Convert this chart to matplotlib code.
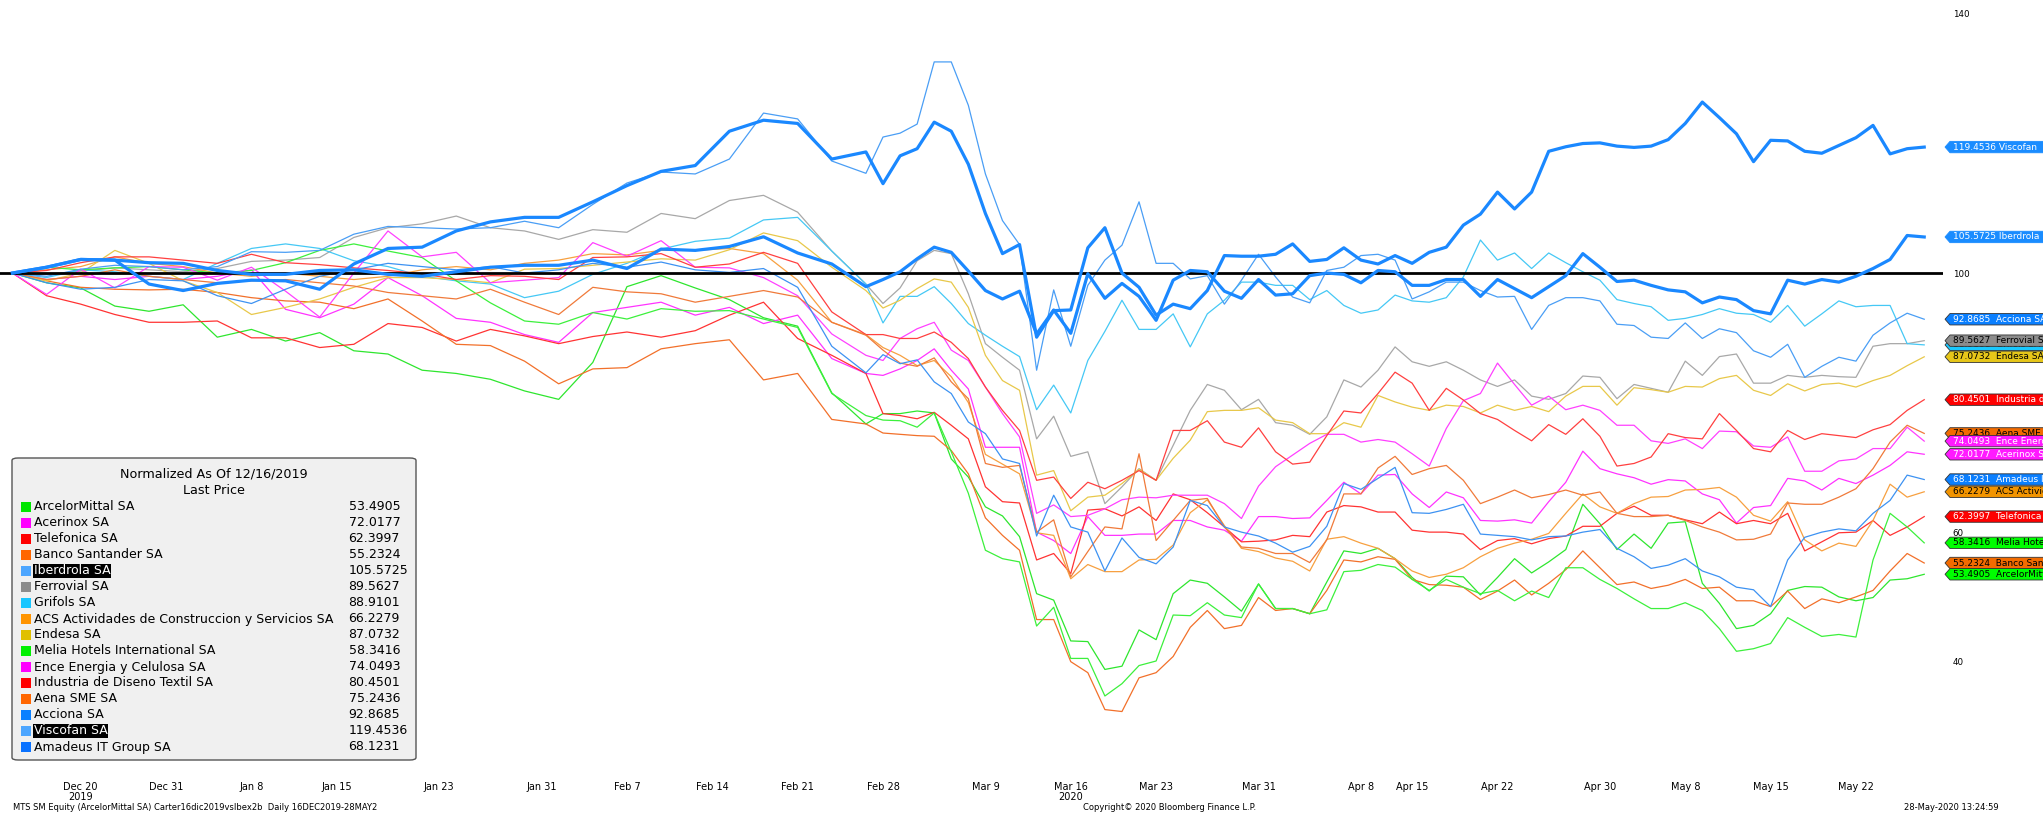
import matplotlib
matplotlib.use("Agg")
import matplotlib.pyplot as plt
from matplotlib.patches import Polygon, Rectangle, FancyBboxPatch
from matplotlib.transforms import IdentityTransform

W, H = 2043, 815

# x = trading day since 16-Dec-2019 (every 2nd day up to 26-Feb, then daily)
days = list(range(0, 52, 2)) + list(range(51, 113))

tick_days = [4, 9, 14, 19, 25, 31, 36, 41, 46, 51, 57, 62, 67, 73, 79, 82, 87, 93, 98, 103, 108]
tick_labels = ["Dec 20\n2019", "Dec 31", "Jan 8", "Jan 15", "Jan 23", "Jan 31", "Feb 7", "Feb 14",
               "Feb 21", "Feb 28", "Mar 9", "Mar 16\n2020", "Mar 23", "Mar 31", "Apr 8", "Apr 15",
               "Apr 22", "Apr 30", "May 8", "May 15", "May 22"]
# 80 and 120 sit under the price tags, so only these show
y_ticks = [40, 60, 100, 140]

# normalized prices (16/12/2019 = 100)
arcelor = [100, 98.5, 97.7, 94.9, 94.1, 95.1, 90.1, 91.3, 89.5, 90.8, 88.0, 87.5, 85.0, 84.5, 83.6, 81.8, 80.5, 86.2, 97.9, 99.6, 97.7, 95.9, 93.1, 91.8, 81.5, 76.7,
           78.3, 78.3, 78.7, 78.4, 71.3, 68.5, 63.9, 62.5, 59.3, 50.5,
           49.5, 43.2, 43.1, 38.8, 39.3, 44.9, 43.4, 50.5, 52.6, 52.1,
           50.0, 47.8, 52.0, 48.2, 48.2, 47.4, 52.3, 57.1, 56.7, 57.5,
           55.9, 53.0, 50.9, 53.2, 53.1, 50.3, 53.0, 55.9, 53.7, 55.4,
           57.3, 64.3, 61.3, 57.3, 59.7, 57.5, 61.4, 61.6, 52.1, 49.0,
           45.1, 45.6, 47.4, 51.0, 51.6, 51.5, 50.0, 49.4, 49.9, 52.6,
           52.8, 53.49]
acerinox = [100, 99.0, 99.5, 99.0, 99.5, 99.0, 99.5, 100.5, 94.4, 93.1, 95.2, 99.3, 96.5, 93.0, 92.4, 90.5, 89.3, 93.9, 94.7, 95.5, 93.5, 94.7, 92.2, 93.5, 86.8, 84.5,
            84.2, 85.2, 86.5, 88.3, 85.0, 82.1, 73.1, 73.1, 73.1, 60.0,
            58.7, 56.7, 62.4, 59.5, 59.5, 59.7, 59.7, 61.8, 61.8, 60.8,
            60.3, 58.6, 62.4, 62.4, 62.1, 62.2, 64.9, 67.7, 65.9, 68.8,
            68.9, 65.9, 63.8, 66.2, 65.3, 61.8, 61.7, 61.9, 61.4, 64.7,
            67.7, 72.5, 69.8, 69.0, 68.4, 67.4, 68.1, 67.9, 65.9, 65.0,
            61.4, 63.8, 64.1, 68.3, 67.9, 66.5, 68.3, 67.5, 68.8, 70.3,
            72.4, 72.02]
telefonica = [100, 96.5, 95.2, 93.6, 92.4, 92.4, 92.6, 90.0, 90.0, 88.5, 89.0, 92.2, 91.6, 89.5, 91.3, 90.3, 89.1, 90.2, 90.9, 90.1, 91.1, 93.5, 95.5, 89.9, 87.3, 84.5,
              78.3, 78.0, 77.5, 78.5, 76.5, 74.4, 67.0, 64.7, 64.5, 55.7,
              56.7, 53.6, 63.4, 63.6, 62.5, 63.9, 61.8, 65.9, 65.0, 63.0,
              60.8, 58.5, 58.6, 58.8, 59.5, 59.3, 63.1, 64.1, 63.9, 63.1,
              63.1, 60.3, 60.0, 60.0, 59.7, 57.3, 58.7, 59.0, 58.2, 59.0,
              59.4, 60.9, 60.9, 62.9, 64.0, 62.6, 62.6, 61.9, 61.3, 63.1,
              61.3, 61.8, 61.3, 62.9, 57.1, 58.5, 59.9, 60.0, 61.8, 59.5,
              60.8, 62.4]
santander = [100, 98.8, 97.8, 97.5, 97.4, 97.5, 97.0, 96.2, 95.7, 95.5, 94.5, 96.0, 92.6, 89.0, 88.8, 86.4, 82.9, 85.2, 85.4, 88.3, 89.1, 89.7, 83.5, 84.5, 77.4, 76.7,
             75.3, 75.1, 74.9, 74.8, 72.6, 69.0, 62.2, 59.5, 57.2, 46.5,
             46.5, 40.0, 38.3, 32.6, 32.3, 37.5, 38.3, 40.8, 45.3, 47.9,
             45.1, 45.6, 49.9, 47.9, 48.2, 47.4, 51.0, 55.7, 55.4, 56.2,
             55.8, 52.7, 51.9, 51.8, 51.5, 49.6, 50.9, 52.6, 50.3, 52.1,
             54.2, 57.1, 54.5, 51.9, 52.3, 51.3, 51.8, 52.7, 51.3, 51.5,
             49.4, 49.4, 48.5, 50.9, 48.2, 49.7, 49.1, 50.0, 51.0, 54.0,
             56.7, 55.23]
iberdrola = [100, 100.9, 102.1, 102.0, 101.6, 101.5, 100.4, 99.8, 99.8, 100.4, 100.5, 99.8, 99.5, 100.2, 100.9, 101.2, 101.2, 102.0, 100.7, 103.7, 103.5, 104.1, 105.6, 103.1, 101.4, 97.9,
             99.0, 100.2, 102.2, 104.0, 103.2, 100.3, 97.3, 96.0, 97.2, 90.6,
             94.3, 90.7, 99.9, 96.1, 98.4, 96.4, 92.7, 98.9, 100.4, 100.2,
             97.2, 96.1, 99.0, 96.6, 96.8, 99.6, 100.0, 99.8, 98.5, 100.4,
             100.2, 98.1, 98.1, 99.0, 99.0, 96.4, 99.0, 97.6, 96.2, 97.9,
             99.6, 103.0, 100.9, 98.7, 98.9, 98.1, 97.4, 97.1, 95.4, 96.3,
             95.9, 94.2, 93.7, 98.9, 98.3, 99.0, 98.6, 99.5, 100.7, 102.1,
             105.8, 105.57]
ferrovial = [100, 99.8, 100.3, 100.8, 100.5, 100.2, 100.7, 101.8, 102.0, 102.4, 105.5, 107.0, 107.6, 108.8, 107.0, 106.5, 105.2, 106.7, 106.3, 109.2, 108.4, 111.2, 112.0, 109.4, 103.4, 98.3,
             95.3, 97.7, 101.9, 103.5, 103.0, 96.8, 89.1, 87.0, 85.0, 74.4,
             77.9, 71.7, 72.4, 64.4, 67.0, 69.8, 68.0, 73.4, 78.8, 82.8,
             81.9, 78.9, 80.5, 76.9, 76.5, 75.1, 77.8, 83.5, 82.4, 85.0,
             88.6, 86.3, 85.6, 86.3, 85.0, 83.5, 82.5, 83.5, 81.0, 80.5,
             81.4, 84.1, 83.9, 80.6, 82.8, 82.2, 81.6, 86.4, 84.2, 87.1,
             87.5, 83.0, 83.0, 84.2, 83.9, 84.2, 84.0, 83.9, 88.7, 89.1,
             89.1, 89.56]
grifols = [100, 99.3, 100.5, 100.2, 99.5, 99.0, 101.5, 103.8, 104.5, 103.8, 101.9, 101.0, 99.5, 98.8, 98.3, 96.2, 97.2, 99.8, 101.5, 103.7, 104.9, 105.4, 108.2, 108.6, 103.4, 98.3,
           92.3, 96.4, 96.4, 97.9, 95.3, 92.2, 90.4, 88.7, 87.1, 78.9,
           82.7, 78.4, 86.5, 91.0, 95.8, 91.3, 91.3, 93.7, 88.6, 93.7,
           95.8, 98.6, 98.6, 98.1, 98.1, 95.9, 97.3, 95.0, 93.8, 94.3,
           96.6, 95.7, 95.5, 96.2, 99.4, 105.1, 102.0, 103.1, 100.7, 103.1,
           101.6, 100.2, 98.9, 95.9, 95.3, 94.8, 92.7, 93.0, 93.6, 94.5,
           93.8, 93.6, 92.4, 95.0, 91.8, 93.7, 95.7, 94.8, 95.0, 95.0,
           89.1, 88.91]
acs = [100, 100.5, 101.0, 102.5, 101.5, 101.0, 100.0, 99.5, 100.0, 99.5, 99.0, 99.5, 100.5, 101.0, 100.5, 101.5, 102.0, 103.0, 102.8, 103.5, 103.5, 103.8, 103.0, 98.9, 92.4, 90.5,
       88.5, 87.3, 85.7, 86.5, 84.0, 80.0, 72.0, 70.5, 69.0, 59.9,
       59.5, 52.8, 55.0, 53.9, 53.9, 55.7, 55.8, 58.0, 63.0, 65.0,
       61.0, 57.5, 57.0, 56.0, 55.5, 54.0, 58.9, 59.3, 58.3, 57.5,
       55.9, 54.0, 53.0, 53.5, 54.5, 56.2, 57.5, 58.3, 58.9, 59.8,
       62.9, 65.9, 63.9, 62.9, 64.4, 65.4, 65.5, 66.5, 66.6, 66.9,
       65.4, 62.6, 61.7, 64.7, 58.8, 57.1, 58.3, 57.8, 61.8, 67.4,
       65.4, 66.23]
endesa = [100, 98.8, 100.0, 103.5, 101.5, 98.8, 97.0, 93.6, 94.7, 96.0, 97.8, 99.3, 99.3, 99.0, 98.5, 100.6, 100.7, 101.2, 101.7, 102.2, 102.0, 103.6, 106.2, 105.0, 100.9, 97.3,
          94.6, 95.8, 97.6, 99.1, 98.6, 94.7, 87.3, 83.4, 81.9, 68.8,
          69.5, 63.3, 65.4, 65.7, 67.5, 69.7, 68.0, 71.4, 74.2, 78.6,
          78.8, 78.8, 79.2, 77.3, 76.9, 75.2, 75.2, 76.9, 76.2, 81.1,
          80.1, 79.3, 78.8, 79.6, 79.4, 78.4, 79.6, 78.8, 79.4, 78.6,
          81.0, 82.5, 82.5, 79.6, 82.3, 82.0, 81.6, 82.5, 82.4, 83.7,
          84.2, 81.9, 81.1, 82.9, 81.8, 82.8, 83.0, 82.4, 83.4, 84.2,
          85.7, 87.07]
melia = [100, 100.9, 100.5, 100.8, 101.0, 100.5, 100.0, 100.4, 101.6, 103.5, 104.5, 103.4, 102.4, 98.8, 95.4, 92.6, 92.1, 93.9, 92.9, 94.5, 94.1, 94.2, 92.9, 91.6, 81.4, 78.0,
         77.3, 77.2, 76.2, 78.4, 72.4, 66.0, 57.2, 55.9, 55.4, 45.5,
         48.4, 40.5, 40.5, 34.7, 36.6, 39.4, 40.1, 47.2, 47.1, 49.1,
         47.2, 46.8, 52.0, 48.2, 48.2, 47.4, 48.0, 53.9, 54.1, 55.0,
         54.6, 52.7, 51.0, 52.7, 51.5, 50.5, 51.0, 49.4, 50.9, 49.9,
         54.5, 54.5, 52.7, 51.3, 49.7, 48.2, 48.2, 49.1, 47.9, 45.1,
         41.6, 42.0, 42.8, 46.8, 45.3, 43.9, 44.2, 43.8, 55.7, 62.9,
         60.8, 58.34]
ence = [100, 96.7, 100.6, 97.7, 101.0, 100.9, 98.9, 100.9, 97.2, 93.2, 100.0, 106.5, 102.5, 103.2, 98.5, 98.9, 99.3, 104.7, 102.6, 105.0, 100.9, 100.8, 99.3, 96.5, 90.6, 87.3,
        86.5, 89.9, 91.4, 92.4, 88.1, 86.5, 82.4, 78.3, 74.7, 62.9,
        64.2, 62.4, 62.6, 63.6, 65.0, 65.4, 65.3, 65.7, 65.7, 65.7,
        64.4, 62.1, 67.1, 70.1, 71.9, 73.7, 75.1, 75.1, 73.9, 74.3,
        73.9, 72.1, 70.2, 76.0, 80.3, 81.4, 86.1, 82.8, 79.6, 81.0,
        78.9, 79.6, 78.8, 76.5, 76.5, 74.1, 73.7, 74.4, 72.9, 75.6,
        75.5, 73.3, 73.1, 74.7, 69.4, 69.4, 71.0, 71.3, 72.9, 72.9,
        76.2, 74.05]
inditex = [100, 100.4, 101.6, 102.5, 102.5, 102.0, 101.5, 102.9, 101.6, 101.3, 100.8, 100.4, 99.9, 99.0, 99.6, 99.5, 99.0, 102.4, 102.5, 103.0, 100.9, 101.4, 103.2, 101.5, 94.0, 90.5,
           90.5, 89.9, 89.9, 90.9, 89.3, 86.8, 82.4, 78.8, 75.7, 68.0,
           68.5, 65.2, 67.7, 66.7, 68.0, 69.5, 68.0, 75.7, 75.7, 77.2,
           73.9, 73.1, 76.1, 72.4, 70.5, 70.8, 74.9, 78.7, 78.4, 81.4,
           84.7, 83.0, 78.8, 82.2, 80.4, 78.3, 77.4, 75.7, 74.1, 76.6,
           75.1, 77.5, 74.8, 70.2, 70.6, 71.6, 75.2, 74.6, 74.4, 78.3,
           75.7, 72.9, 72.4, 75.7, 74.3, 75.2, 74.9, 74.6, 75.8, 76.6,
           78.8, 80.45]
aena = [100, 99.0, 99.5, 100.5, 99.5, 99.0, 98.5, 98.8, 99.0, 98.5, 98.0, 97.0, 96.5, 96.0, 97.5, 95.5, 93.6, 97.8, 97.1, 96.8, 95.5, 96.4, 97.3, 96.3, 92.4, 90.4,
        88.1, 86.1, 85.6, 86.9, 83.2, 80.6, 70.6, 70.0, 70.3, 60.0,
        61.9, 53.1, 57.0, 60.8, 60.5, 72.1, 58.7, 61.8, 64.9, 65.2,
        60.8, 57.7, 57.5, 56.7, 56.7, 55.3, 58.8, 65.9, 65.9, 69.9,
        71.7, 68.9, 69.8, 70.3, 68.0, 64.4, 65.4, 66.5, 65.3, 65.8,
        66.5, 65.7, 66.2, 62.9, 62.4, 62.4, 62.6, 61.8, 60.8, 60.0,
        58.8, 58.9, 59.7, 64.5, 64.3, 64.3, 65.4, 66.7, 69.8, 73.9,
        76.5, 75.24]
acciona = [100, 99.5, 100.6, 101.2, 101.0, 100.5, 101.0, 103.3, 103.2, 103.5, 106.0, 107.2, 107.0, 106.8, 107.0, 108.0, 107.0, 110.6, 113.9, 115.6, 115.3, 117.6, 124.7, 123.8, 117.3, 115.4,
           121.0, 121.6, 123.0, 132.6, 132.6, 125.9, 115.3, 108.1, 104.4, 85.0,
           97.4, 88.7, 98.1, 102.0, 104.3, 111.0, 101.5, 101.5, 99.1, 99.6,
           95.2, 98.9, 102.9, 99.4, 96.3, 95.4, 100.4, 100.9, 102.7, 102.9,
           102.0, 96.0, 97.1, 98.6, 98.6, 97.3, 96.3, 96.4, 91.3, 95.0,
           96.2, 96.2, 95.7, 92.1, 91.9, 90.1, 89.9, 92.3, 89.9, 91.4,
           90.8, 88.0, 87.0, 89.0, 83.9, 85.6, 87.0, 86.4, 90.4, 92.3,
           93.8, 92.87]
viscofan = [100, 100.9, 102.1, 102.0, 98.3, 97.3, 98.4, 98.9, 98.8, 97.5, 101.4, 103.8, 104.0, 106.5, 107.9, 108.6, 108.6, 111.0, 113.5, 115.7, 116.6, 121.9, 123.6, 123.1, 117.6, 118.7,
            113.8, 118.1, 119.2, 123.3, 121.9, 116.8, 109.2, 103.0, 104.4, 90.1,
            94.2, 94.3, 103.9, 107.0, 100.0, 97.8, 93.5, 95.2, 94.5, 97.3,
            102.7, 102.6, 102.6, 102.9, 104.5, 101.8, 102.1, 103.9, 102.0, 101.4,
            102.7, 101.5, 103.2, 104.0, 107.4, 109.1, 112.5, 109.9, 112.5, 118.8,
            119.5, 120.0, 120.1, 119.6, 119.4, 119.6, 120.6, 123.1, 126.4, 124.0,
            121.5, 117.2, 120.5, 120.4, 118.8, 118.5, 119.7, 120.9, 122.8, 118.4,
            119.2, 119.45]
amadeus = [100, 98.5, 97.5, 97.8, 99.0, 98.8, 96.5, 95.3, 97.5, 99.5, 100.5, 101.5, 101.0, 100.5, 101.0, 100.0, 100.5, 101.5, 100.9, 101.7, 100.5, 100.1, 100.7, 97.8, 88.7, 84.6,
           87.4, 86.0, 86.6, 83.2, 81.4, 77.0, 75.2, 71.3, 70.6, 59.4,
           65.7, 60.8, 60.0, 54.0, 59.1, 56.1, 55.1, 57.7, 64.9, 64.1,
           60.8, 60.0, 59.4, 58.3, 56.9, 57.8, 60.9, 67.5, 66.6, 68.3,
           70.0, 63.0, 62.9, 63.5, 64.3, 59.7, 59.5, 59.3, 58.8, 59.3,
           59.4, 60.0, 60.4, 57.5, 56.2, 54.4, 54.9, 55.9, 54.0, 53.1,
           51.5, 51.1, 48.5, 55.7, 59.2, 60.0, 60.5, 60.2, 62.9, 64.9,
           68.8, 68.12]

# legend name, tag name, last price, data, line colour, legend square, tag colour, tag text, bold
series = [
    ("ArcelorMittal SA", "ArcelorMittal SA", 53.4905, arcelor, "#2EE62E", "#00E600", "#00FF00", "black", False),
    ("Acerinox SA", "Acerinox SA", 72.0177, acerinox, "#FF33FF", "#FF00FF", "#FF1AFF", "white", False),
    ("Telefonica SA", "Telefonica SA", 62.3997, telefonica, "#FF3333", "#FF0000", "#FF0000", "white", False),
    ("Banco Santander SA", "Banco Santander SA", 55.2324, santander, "#F2702A", "#FF6600", "#F26B00", "black", False),
    ("Iberdrola SA", "Iberdrola", 105.5725, iberdrola, "#1A88FF", "#4DA6FF", "#1A8CFF", "white", True),
    ("Ferrovial SA", "Ferrovial SA", 89.5627, ferrovial, "#A8A8A8", "#8C8C8C", "#8C8C8C", "black", False),
    ("Grifols SA", "Grifols SA", 88.9101, grifols, "#45C8F5", "#19C6FF", "#1AC8FF", "black", False),
    ("ACS Actividades de Construccion y Servicios SA", "ACS Actividades", 66.2279, acs, "#F7A040", "#FF9400", "#F29400", "black", False),
    ("Endesa SA", "Endesa SA", 87.0732, endesa, "#E8C84A", "#E0C000", "#E6C619", "black", False),
    ("Melia Hotels International SA", "Melia Hotels", 58.3416, melia, "#3CF03C", "#00F000", "#00FF00", "black", False),
    ("Ence Energia y Celulosa SA", "Ence Energia", 74.0493, ence, "#FF40FF", "#FF00FF", "#FF1AFF", "white", False),
    ("Industria de Diseno Textil SA", "Industria de Diseno", 80.4501, inditex, "#FF4040", "#FF0000", "#FF0000", "white", False),
    ("Aena SME SA", "Aena SME SA", 75.2436, aena, "#F07A3A", "#FF6600", "#F26B00", "black", False),
    ("Acciona SA", "Acciona SA", 92.8685, acciona, "#4A9EF5", "#0A80FF", "#0A7FFF", "white", False),
    ("Viscofan SA", "Viscofan", 119.4536, viscofan, "#1A88FF", "#4DA6FF", "#1A8CFF", "white", True),
    ("Amadeus IT Group SA", "Amadeus IT", 68.1231, amadeus, "#3D92F2", "#0A72FF", "#0A7FFF", "white", False),
]

for s in series:
    if len(s[3]) != len(days):
        raise ValueError("%s has %d values, expected %d" % (s[0], len(s[3]), len(days)))

fig = plt.figure(figsize=(W / 100, H / 100), dpi=100)
ax = fig.add_axes([0, 40 / H, 1943 / W, 775 / H])
ax.set_xlim(-0.73, 113.1)
ax.set_ylim(22.5, 142.16)
for sp in ax.spines.values():
    sp.set_visible(False)

ax.axhline(100, color="black", lw=2.0, zorder=2.5)
for name, tag, last, vals, lc, sq, tc, ttc, bold in series:
    ax.plot(days, vals, color=lc, lw=2.3 if bold else 0.9, zorder=3 if bold else 2)

ax.set_xticks(tick_days)
ax.set_xticklabels(tick_labels, fontsize=7, linespacing=1.0)
ax.tick_params(axis="x", length=0, pad=5)
ax.yaxis.tick_right()
ax.set_yticks(y_ticks)
ax.tick_params(axis="y", length=0, pad=7, labelsize=6.3)


def fx(x):
    return x / W


def fy(y):
    return 1 - y / H


# legend box
fig.add_artist(FancyBboxPatch((fx(12), fy(760)), 404 / W, 302 / H, transform=fig.transFigure,
                              boxstyle="round,pad=0,rounding_size=0.003",
                              facecolor="#F0F0F0", edgecolor="#555555", lw=1.0, zorder=10))
fig.text(fx(214), fy(474), "Normalized As Of 12/16/2019", ha="center", va="center", fontsize=9.2, zorder=11)
fig.text(fx(214), fy(491), "Last Price", ha="center", va="center", fontsize=9.2, zorder=11)
for i, (name, tag, last, vals, lc, sq, tc, ttc, bold) in enumerate(series):
    y = 507 + 16 * i
    fig.add_artist(Rectangle((fx(21), fy(y + 4.8)), 9.5 / W, 9.6 / H, transform=fig.transFigure,
                             facecolor=sq, edgecolor="none", zorder=11))
    if bold:
        fig.text(fx(33.5), fy(y), name, ha="left", va="center", fontsize=9, color="white", zorder=12,
                 bbox=dict(facecolor="black", edgecolor="none", pad=0.6))
    else:
        fig.text(fx(33.5), fy(y), name, ha="left", va="center", fontsize=9, zorder=12)
    fig.text(fx(348.5), fy(y), "%.4f" % last, ha="left", va="center", fontsize=9, zorder=12)

# last value tags on the right
for k, (name, tag, last, vals, lc, sq, tc, ttc, bold) in enumerate(reversed(series)):
    yc = ax.transData.transform((0, last))[1]
    pts = [(1945, yc), (1950, yc + 5.7), (W + 5, yc + 5.7), (W + 5, yc - 5.7), (1950, yc - 5.7)]
    fig.add_artist(Polygon(pts, closed=True, transform=IdentityTransform(), facecolor=tc,
                           edgecolor=tc if bold else "#333333", lw=0.6, zorder=20 + 2 * k))
    txt = ("%.4f %s" if bold else "%.4f  %s") % (last, tag)
    fig.text(1953 / W, yc / H, txt, color=ttc, fontsize=6.5, ha="left", va="center", zorder=21 + 2 * k)

# footer
fig.text(fx(13), fy(808), "MTS SM Equity (ArcelorMittal SA) Carter16dic2019vsIbex2b  Daily 16DEC2019-28MAY2",
         ha="left", va="center", fontsize=6)
fig.text(fx(1170), fy(808), "Copyright\u00a9 2020 Bloomberg Finance L.P.", ha="center", va="center", fontsize=6)
fig.text(fx(1904), fy(808), "28-May-2020 13:24:59", ha="left", va="center", fontsize=6)

fig.savefig("out.png", dpi=100)
